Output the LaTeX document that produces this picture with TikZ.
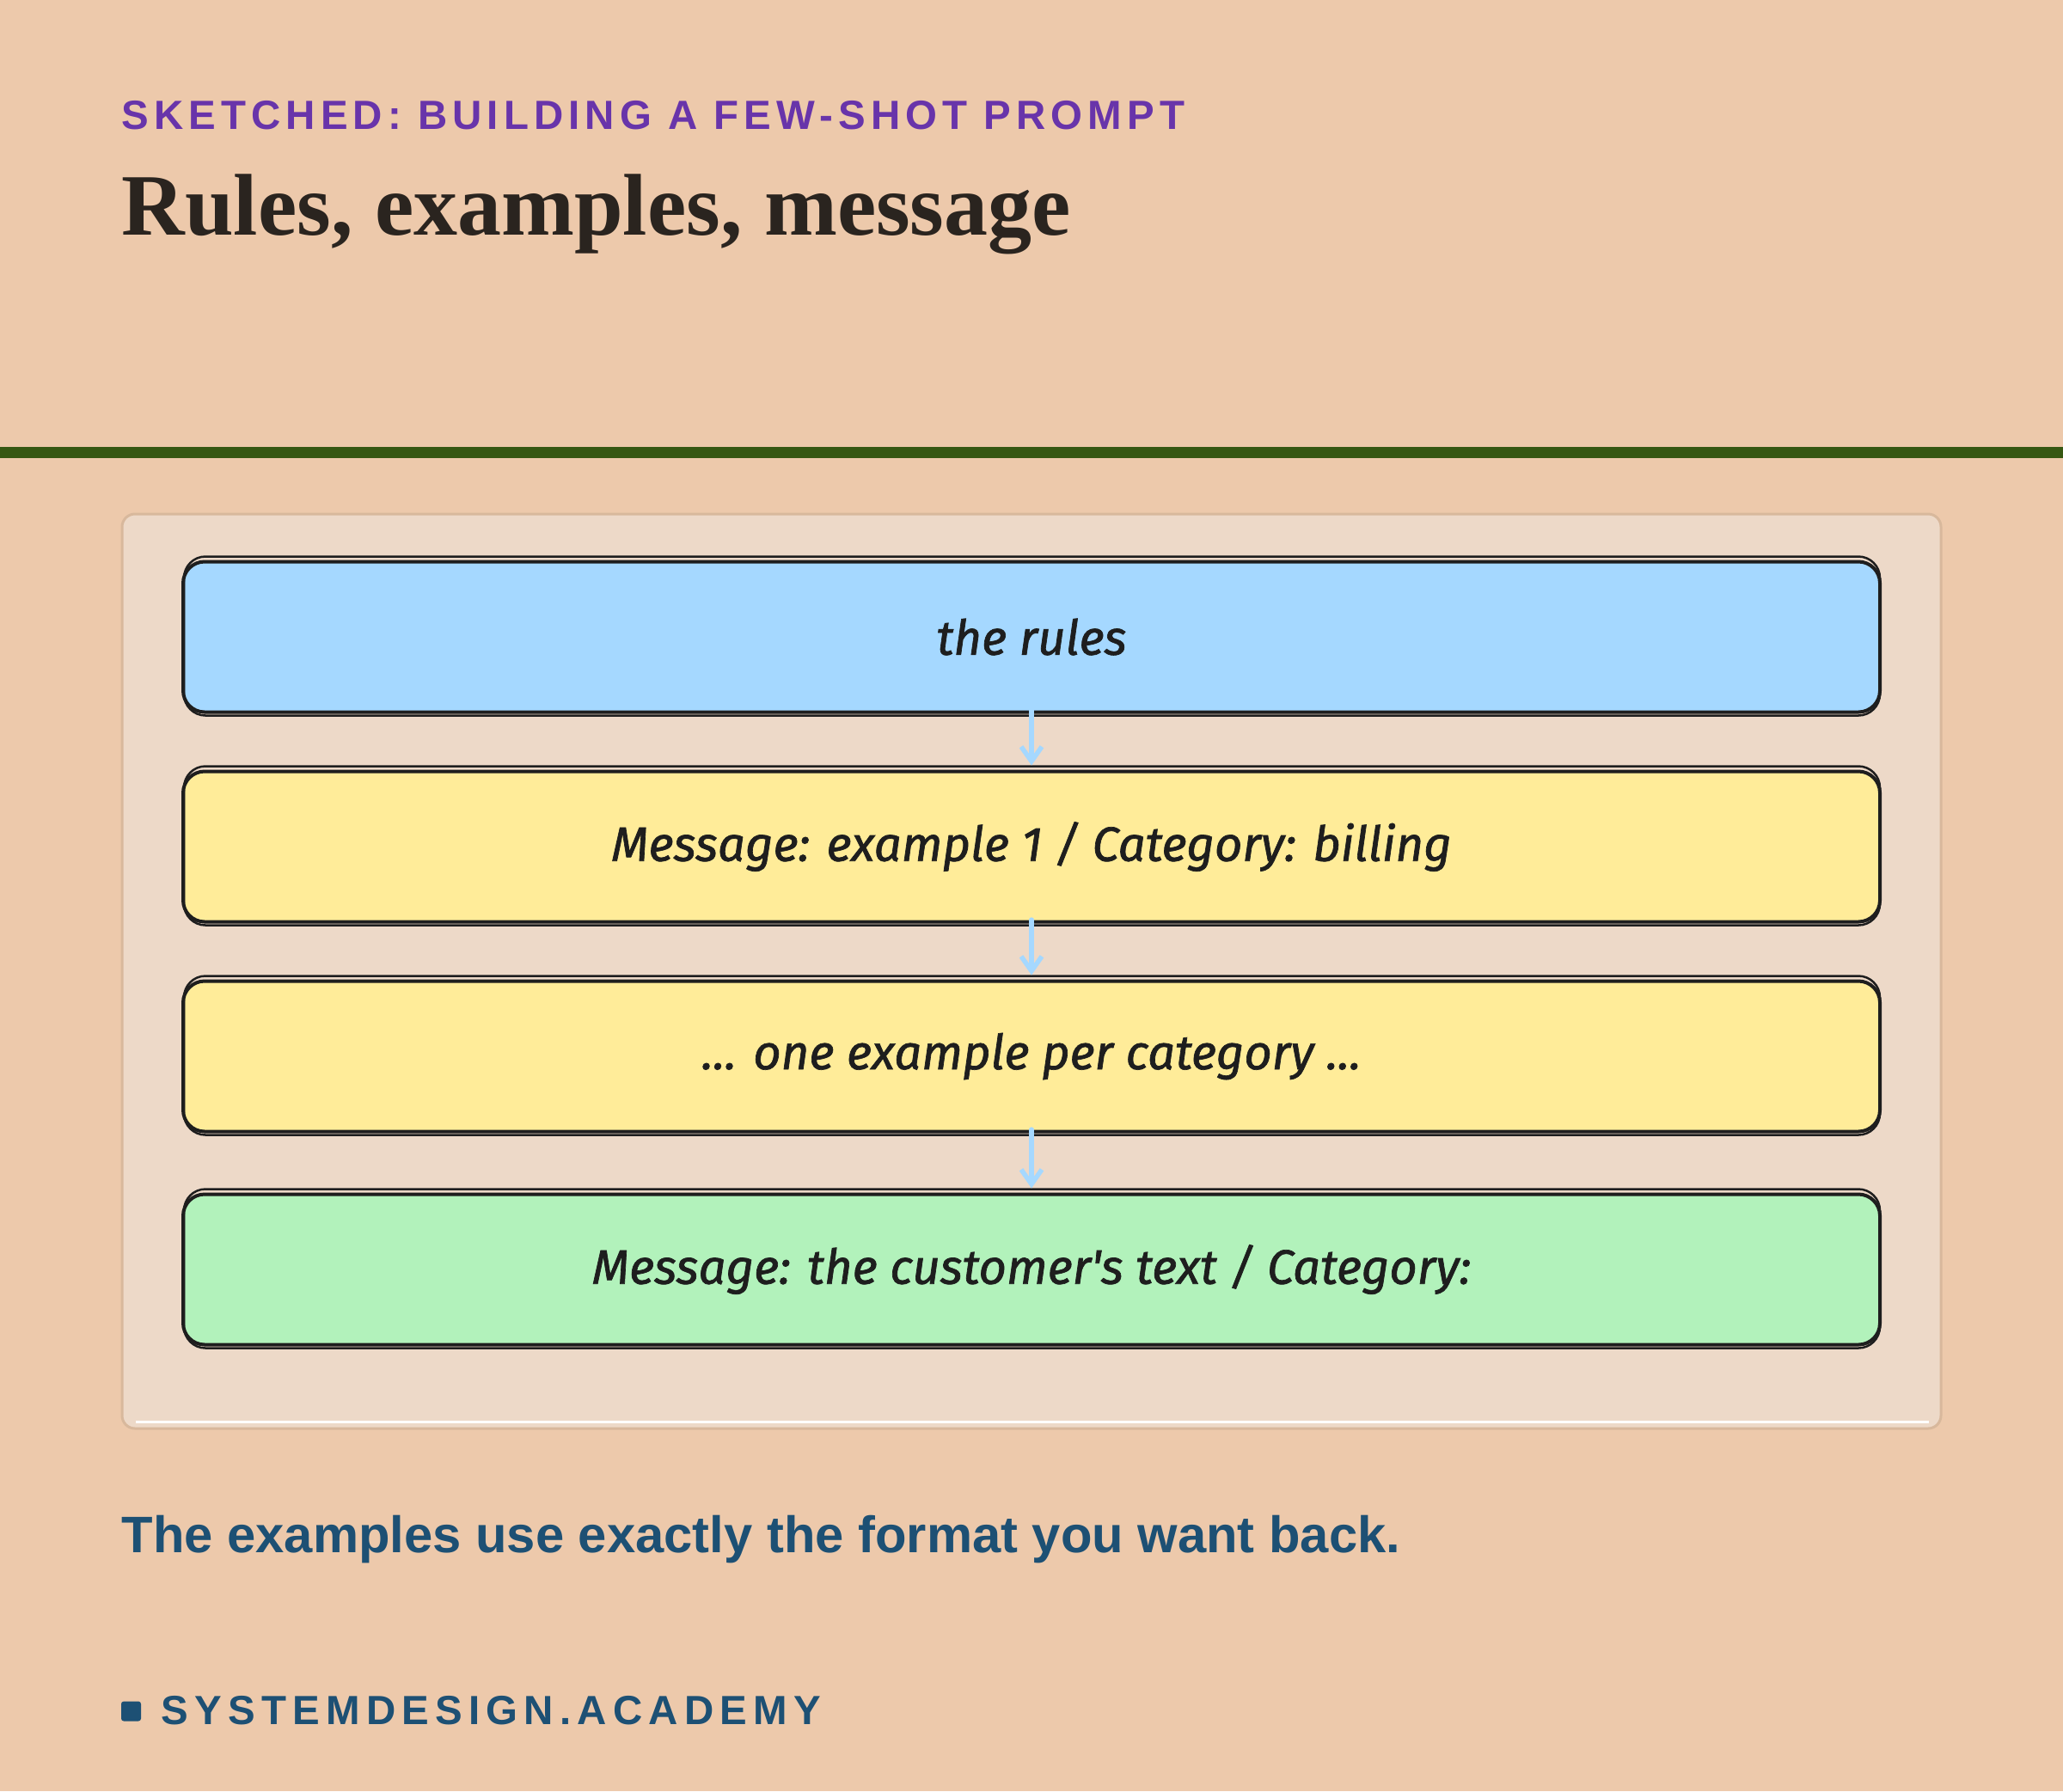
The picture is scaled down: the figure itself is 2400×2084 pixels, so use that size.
\documentclass[tikz,border=0pt]{standalone}
\usepackage{fontspec}
\usetikzlibrary{arrows.meta}

\definecolor{peach}{HTML}{EDC9AB}
\definecolor{panelfill}{HTML}{EDD9C8}
\definecolor{panelline}{HTML}{D8B89C}
\definecolor{olive}{HTML}{365712}
\definecolor{kicker}{HTML}{6834AA}
\definecolor{titleink}{HTML}{2A241F}
\definecolor{navy}{HTML}{1D5074}
\definecolor{ink}{HTML}{1E1E1E}
\definecolor{rulesblue}{HTML}{A5D8FF}
\definecolor{exyellow}{HTML}{FFEC99}
\definecolor{querygreen}{HTML}{B2F2BB}

\newfontfamily\kickerfont[LetterSpace=12.8]{Liberation Sans}
\newfontfamily\brandfont[LetterSpace=15.2]{Liberation Sans}
\newfontfamily\notefont{Liberation Sans}
\newfontfamily\titlefont{Liberation Serif}
\newfontfamily\handfont[FakeBold=1.2]{Fira Sans}

\begin{document}
\begin{tikzpicture}[
    x = 0.1mm, y = -0.1mm,
      box/.style={draw=ink, line width=0.4mm, rectangle, rounded corners=2.5mm, minimum width=197.4mm, minimum height=17.5mm, inner sep=0pt, text=ink, font=\handfont\itshape\fontsize{16}{19}\selectfont},
      rules/.style={box, fill=rulesblue},
      example/.style={box, fill=exyellow},
      query/.style={box, fill=querygreen},
      sketch/.style={draw=ink, line width=0.25mm, rounded corners=2.5mm},
      arrow/.style={-{Straight Barb[length=1.7mm, width=2.4mm, line width=0.55mm]}, line width=0.6mm, color=rulesblue, line cap=round, shorten >=0.5mm}
  ]
      % Background
      \fill[peach] (0, 0) rectangle (2400, 2084);
      \useasboundingbox (0, 0) rectangle (2400, 2084);

      % Heading
      \node (kicker) at (141, 150) [anchor=base west, inner sep=0pt, text=kicker] {\kickerfont\bfseries\fontsize{13.5}{16}\selectfont SKETCHED: BUILDING A FEW-SHOT PROMPT};
      \node (title) at (141, 273) [anchor=base west, inner sep=0pt, text=titleink] {\titlefont\bfseries\fontsize{29}{32}\selectfont Rules, examples, message};

      % Divider
      \fill[olive] (0, 520) rectangle (2400, 533);

      % Panel
      \draw[panelline, fill=panelfill, line width=0.3mm, rounded corners=1.5mm] (142, 598) rectangle (2258, 1662);
      \draw[white, line width=0.3mm] (158, 1654) -- (2244, 1654);

      % Rules
      \node (rules) at (1200, 741) [rules] {the rules};

      % Examples
      \node (ex1) at (1200, 985) [example] {Message: example 1 / Category: billing};
      \node (exmore) at (1200, 1229) [example] {... one example per category ...};

      % Message
      \node (msg) at (1200, 1477) [query] {Message: the customer's text / Category:};

      % Second stroke
      \foreach \n in {rules, ex1, exmore, msg}
        \draw[sketch] ([shift={(3, -4)}]\n.north west) rectangle ([shift={(-2, 2)}]\n.south east);

      % Arrows
      \draw[arrow] ([yshift=1.2pt]rules.south) -- (ex1.north);
      \draw[arrow] ([yshift=1.2pt]ex1.south) -- (exmore.north);
      \draw[arrow] ([yshift=1.2pt]exmore.south) -- (msg.north);

      % Caption
      \node (note) at (141, 1806) [anchor=base west, inner sep=0pt, text=navy] {\notefont\bfseries\fontsize{17}{20}\selectfont The examples use exactly the format you want back.};

      % Footer
      \node (mark) at (152.5, 1991) [fill=navy, rounded corners=0.3mm, minimum size=2.3mm, inner sep=0pt] {};
      \node (brand) at (187, 2006) [anchor=base west, inner sep=0pt, text=navy] {\brandfont\bfseries\fontsize{13.5}{16}\selectfont SYSTEMDESIGN.ACADEMY};
  \end{tikzpicture}
\end{document}
